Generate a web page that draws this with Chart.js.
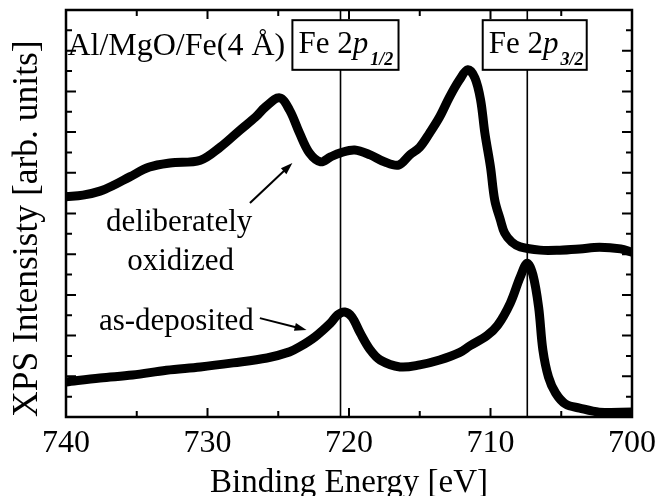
<!DOCTYPE html>
<html>
<head>
<meta charset="utf-8">
<script src="https://cdn.jsdelivr.net/npm/chart.js@4/dist/chart.umd.min.js"></script>
<style>
  html, body { margin: 0; padding: 0; background: #fff; }
  #wrap { width: 655px; height: 496px; }
</style>
</head>
<body>
<div id="wrap"><canvas id="xps"></canvas></div>
<script>
// binding energy [eV] and intensity [arb. units]
const oxEnergy = [740.0, 738.8, 737.6, 736.6, 735.5, 734.1, 732.65, 730.5, 729.1, 727.7, 726.6, 725.9, 724.9,
  724.2, 723.5, 722.8, 722.0, 721.3, 720.6, 719.6, 718.5, 717.5, 716.5, 715.7, 715.0, 714.3, 713.6,
  712.9, 712.2, 711.6, 711.1, 710.7, 710.4, 710.0, 709.7, 709.3, 709.0, 708.5, 707.9, 706.5, 705.1,
  703.7, 702.3, 700.8, 700.0];
const oxIntensity = [5.41, 5.45, 5.55, 5.70, 5.90, 6.14, 6.24, 6.31, 6.63, 7.05, 7.37, 7.62, 7.84,
  7.54, 6.98, 6.49, 6.27, 6.39, 6.49, 6.56, 6.44, 6.27, 6.19, 6.44, 6.63, 6.98, 7.37,
  7.86, 8.28, 8.53, 8.33, 7.79, 6.98, 6.14, 5.33, 4.84, 4.52, 4.30, 4.18, 4.10, 4.10,
  4.13, 4.17, 4.13, 4.05];

const asEnergy = [740.0, 737.6, 735.3, 732.9, 730.5, 728.2, 725.8, 724.2, 723.5, 722.4, 721.3, 720.8,
  720.3, 719.8, 719.2, 718.5, 717.8, 716.4, 715.0, 713.6, 712.2, 711.45, 710.25, 709.5, 708.6,
  707.9, 707.4, 707.0, 706.6, 706.3, 705.9, 705.4, 704.7, 703.7, 702.3, 700.0];
const asIntensity = [0.86, 0.96, 1.03, 1.15, 1.23, 1.33, 1.45, 1.60, 1.72, 1.97, 2.31, 2.51,
  2.58, 2.46, 2.06, 1.65, 1.40, 1.23, 1.28, 1.40, 1.58, 1.75, 2.00, 2.25, 2.80,
  3.44, 3.78, 3.49, 2.70, 1.65, 0.98, 0.59, 0.32, 0.22, 0.12, 0.12];

// Fe 2p reference lines
const peakEnergies = [720.6, 707.4];
const peakLabels = [["Fe 2", "p", "1/2"], ["Fe 2", "p", "3/2"]];

const xTickLabels = [740, 730, 720, 710, 700];

const toPts = (xs, ys) => xs.map((x, i) => ({ x: x, y: ys[i] }));

const SERIF = "'Liberation Serif', 'Times New Roman', serif";

// frame, inward ticks and the annotations, all placed through the scales
const decor = {
  id: "decor",
  afterDatasetsDraw(chart) {
    const { ctx, chartArea: a, scales: { x, y } } = chart;
    ctx.save();
    ctx.strokeStyle = "#000";
    ctx.fillStyle = "#000";

    // ticks
    ctx.lineWidth = 2;
    for (let e = 700; e <= 740; e += 5) {
      const px = x.getPixelForValue(e);
      const len = e % 10 === 0 ? 9 : 6;
      ctx.beginPath();
      ctx.moveTo(px, a.bottom); ctx.lineTo(px, a.bottom - len);
      ctx.moveTo(px, a.top); ctx.lineTo(px, a.top + len);
      ctx.stroke();
    }
    for (let v = 0; v <= 10; v += 0.5) {
      const py = y.getPixelForValue(v);
      const len = v % 1 === 0 ? 10 : 6;
      ctx.beginPath();
      ctx.moveTo(a.left, py); ctx.lineTo(a.left + len, py);
      ctx.moveTo(a.right, py); ctx.lineTo(a.right - len, py);
      ctx.stroke();
    }
    ctx.lineWidth = 2.5;
    ctx.strokeRect(a.left, a.top, a.right - a.left, a.bottom - a.top);

    // peak lines and boxed labels
    const boxes = [[724.0, 716.5], [710.55, 703.2]];
    const boxTop = y.getPixelForValue(9.75), boxBot = y.getPixelForValue(8.53);
    peakEnergies.forEach((e, i) => {
      const px = x.getPixelForValue(e);
      ctx.lineWidth = 1.6;
      ctx.beginPath();
      ctx.moveTo(px, a.top); ctx.lineTo(px, boxTop);
      ctx.moveTo(px, boxBot); ctx.lineTo(px, a.bottom);
      ctx.stroke();
      const l = x.getPixelForValue(boxes[i][0]), r = x.getPixelForValue(boxes[i][1]);
      ctx.fillStyle = "#fff";
      ctx.fillRect(l, boxTop, r - l, boxBot - boxTop);
      ctx.fillStyle = "#000";
      ctx.lineWidth = 2;
      ctx.strokeRect(l, boxTop, r - l, boxBot - boxTop);
      const [t1, t2, t3] = peakLabels[i];
      let tx = l + 6;
      const base = boxTop + 33;
      ctx.textAlign = "left";
      ctx.textBaseline = "alphabetic";
      ctx.font = "31px " + SERIF;
      ctx.fillText(t1, tx, base);
      tx += ctx.measureText(t1).width;
      ctx.font = "italic 31px " + SERIF;
      ctx.fillText(t2, tx, base);
      tx += ctx.measureText(t2).width + 2;
      ctx.font = "italic bold 18px " + SERIF;
      ctx.fillText(t3, tx, base + 12);
    });

    // text labels
    ctx.font = "32px " + SERIF;
    ctx.textAlign = "left";
    ctx.fillText("Al/MgO/Fe(4 \u00c5)", x.getPixelForValue(739.9), y.getPixelForValue(8.89));
    ctx.textAlign = "center";
    ctx.font = "31px " + SERIF;
    ctx.fillText("deliberately", x.getPixelForValue(732.0), y.getPixelForValue(4.57));
    ctx.fillText("oxidized", x.getPixelForValue(731.9), y.getPixelForValue(3.61));
    ctx.fillText("as-deposited", x.getPixelForValue(732.2), y.getPixelForValue(2.14));

    // arrows
    const arrow = (e0, v0, e1, v1) => {
      const x0 = x.getPixelForValue(e0), y0 = y.getPixelForValue(v0);
      const x1 = x.getPixelForValue(e1), y1 = y.getPixelForValue(v1);
      const ang = Math.atan2(y1 - y0, x1 - x0);
      ctx.lineWidth = 2;
      ctx.beginPath();
      ctx.moveTo(x0, y0);
      ctx.lineTo(x1 - 8 * Math.cos(ang), y1 - 8 * Math.sin(ang));
      ctx.stroke();
      ctx.beginPath();
      ctx.moveTo(x1, y1);
      ctx.lineTo(x1 - 12 * Math.cos(ang) + 4 * Math.sin(ang), y1 - 12 * Math.sin(ang) - 4 * Math.cos(ang));
      ctx.lineTo(x1 - 12 * Math.cos(ang) - 4 * Math.sin(ang), y1 - 12 * Math.sin(ang) + 4 * Math.cos(ang));
      ctx.closePath();
      ctx.fill();
    };
    arrow(727.0, 5.26, 724.0, 6.24);
    arrow(726.3, 2.43, 723.0, 2.14);

    ctx.restore();
  }
};

new Chart(document.getElementById("xps"), {
  type: "line",
  data: {
    datasets: [
      { label: "deliberately oxidized", data: toPts(oxEnergy, oxIntensity) },
      { label: "as-deposited", data: toPts(asEnergy, asIntensity) }
    ]
  },
  options: {
    responsive: true,
    maintainAspectRatio: false,
    animation: false,
    layout: { padding: { top: 10, right: 23, left: 0, bottom: 0 } },
    elements: {
      line: { borderColor: "#000", borderWidth: 9, tension: 0.35, borderCapStyle: "round", borderJoinStyle: "round" },
      point: { radius: 0 }
    },
    plugins: { legend: { display: false }, tooltip: { enabled: false } },
    scales: {
      x: {
        type: "linear",
        min: 700,
        max: 740,
        reverse: true,
        grid: { display: false },
        border: { display: false },
        afterBuildTicks: (s) => { s.ticks = xTickLabels.map((v) => ({ value: v })); },
        afterFit: (s) => { s.height = 79; s.paddingLeft = 0; s.paddingRight = 0; },
        ticks: { color: "#000", padding: -1, maxRotation: 0, font: { family: SERIF, size: 32 } },
        title: { display: true, text: "Binding Energy [eV]", color: "#000", padding: { top: 0, bottom: -7 },
                 font: { family: SERIF, size: 33 } }
      },
      y: {
        min: 0,
        max: 10,
        grid: { display: false },
        border: { display: false },
        ticks: { display: false },
        afterFit: (s) => { s.width = 66; },
        title: { display: true, text: "XPS Intensisty [arb. units]", color: "#000", align: "start",
                 padding: { top: 6, bottom: 0 }, font: { family: SERIF, size: 35.5 } }
      }
    }
  },
  plugins: [decor]
});
</script>
</body>
</html>
